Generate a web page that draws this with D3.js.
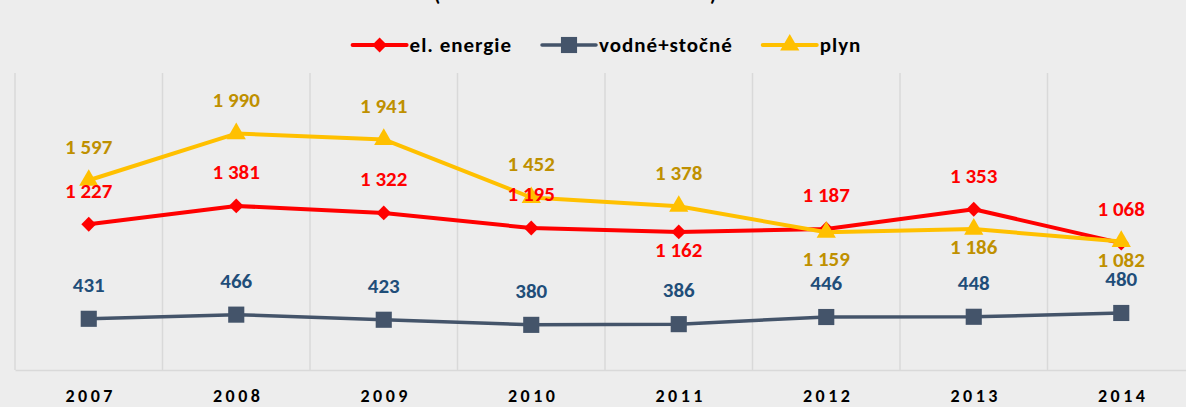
<!DOCTYPE html>
<html>
<head>
<meta charset="utf-8">
<script src="https://cdn.jsdelivr.net/npm/d3@7"></script>
<style>
  body { margin: 0; background: #ededed; }
  svg { display: block; font-family: Carlito, Lato, "Open Sans", sans-serif; }
</style>
</head>
<body>
<svg></svg>
<script>
let years = ['2007', '2008', '2009', '2010', '2011', '2012', '2013', '2014'];
let elEnergie = [1227, 1381, 1322, 1195, 1162, 1187, 1353, 1068];
let vodne = [431, 466, 423, 380, 386, 446, 448, 480];
let plyn = [1597, 1990, 1941, 1452, 1378, 1159, 1186, 1082];
// label placement per point: a = above, b = below, B = further below
let elPos = ['a', 'a', 'a', 'a', 'b', 'a', 'a', 'a'];
let vodnePos = ['a', 'a', 'a', 'a', 'a', 'a', 'a', 'a'];
let plynPos = ['a', 'a', 'a', 'a', 'a', 'B', 'b', 'b'];

let series = [
  {name: 'el. energie', values: elEnergie, pos: elPos, line: '#ff0000', label: '#ff0000', marker: 'diamond', width: 4},
  {name: 'vodné+stočné', values: vodne, pos: vodnePos, line: '#44546a', label: '#1f4e79', marker: 'square', width: 3.5},
  {name: 'plyn', values: plyn, pos: plynPos, line: '#ffc000', label: '#bf9000', marker: 'triangle', width: 4}
];

let svgWidth = 1186, svgHeight = 407;
let svg = d3.select('svg').attr('width', svgWidth).attr('height', svgHeight);

let x = d3.scaleBand().domain(years).range([15, 1195]);
let y = d3.scaleLinear().domain([0, 2500]).range([370, 73]);

// cut-off title (only the bottoms of the parentheses show)
svg.append('text').attr('x', 437).attr('y', 1).attr('font-size', 20).attr('font-weight', 'bold').attr('text-anchor', 'middle').text('(');
svg.append('text').attr('x', 713).attr('y', 1).attr('font-size', 20).attr('font-weight', 'bold').attr('text-anchor', 'middle').text(')');

// vertical gridlines between categories
let bounds = years.map(d => x(d)).concat([x.range()[1]]);
svg.append('g').selectAll('line')
  .data(bounds)
  .enter()
  .append('line')
  .attr('x1', d => d).attr('x2', d => d)
  .attr('y1', y(2500)).attr('y2', y(0))
  .attr('stroke', '#d9d9d9').attr('stroke-width', 1.5);

let xAxis = svg.append('g')
  .attr('transform', 'translate(0,' + y(0) + ')')
  .call(d3.axisBottom(x).tickSize(0).tickPadding(19));
xAxis.select('.domain').attr('stroke', '#d9d9d9').attr('stroke-width', 1.5);
xAxis.selectAll('text')
  .attr('font-family', 'Carlito, Lato, "Open Sans", sans-serif')
  .attr('font-size', 18).attr('font-weight', 'bold')
  .attr('fill', '#000')
  .attr('letter-spacing', '3.5px')
  .attr('dx', 2);

let cx = (d, i) => x(years[i]) + x.bandwidth() / 2;

let symbols = {
  diamond: d3.symbol().type(d3.symbolDiamond2).size(140),
  square: d3.symbol().type(d3.symbolSquare).size(260),
  triangle: d3.symbol().type(d3.symbolTriangle).size(160)
};

let line = d3.line().x(cx).y(d => y(d));

// draw order: vodne, el. energie, plyn (plyn on top like the reference)
let order = [series[1], series[0], series[2]];
order.forEach(s => {
  let g = svg.append('g');
  g.append('path')
    .attr('d', line(s.values))
    .attr('fill', 'none')
    .attr('stroke', s.line)
    .attr('stroke-width', s.width)
    .attr('stroke-linejoin', 'round');
  g.selectAll('path.m')
    .data(s.values)
    .enter()
    .append('path')
    .attr('class', 'm')
    .attr('transform', (d, i) => 'translate(' + cx(d, i) + ',' + y(d) + ')')
    .attr('d', symbols[s.marker])
    .attr('fill', s.line);
});

// data labels
let offset = {a: -34, b: 18, B: 26};
series.forEach(s => {
  svg.append('g').selectAll('text')
    .data(s.values)
    .enter()
    .append('text')
    .attr('x', cx)
    .attr('y', (d, i) => y(d) + offset[s.pos[i]])
    .attr('dy', '0.35em')
    .attr('text-anchor', 'middle')
    .attr('font-size', 21)
    .attr('font-weight', 'bold')
    .attr('fill', s.label)
    .text(d => d3.format(',')(d).replace(/,/g, ' '));
});

// legend
let legend = svg.append('g');
let lx = 0;
series.forEach(s => {
  let item = legend.append('g').attr('transform', 'translate(' + lx + ',0)');
  item.append('line')
    .attr('x1', 0).attr('x2', 54).attr('y1', 45).attr('y2', 45)
    .attr('stroke', s.line).attr('stroke-width', s.width)
    .attr('stroke-linecap', 'round');
  item.append('path')
    .attr('transform', 'translate(27,45)')
    .attr('d', symbols[s.marker])
    .attr('fill', s.line);
  let t = item.append('text')
    .attr('x', 57).attr('y', 52)
    .attr('font-size', 21).attr('font-weight', 'bold')
    .attr('letter-spacing', '1px')
    .attr('fill', '#000')
    .text(s.name);
  lx += 57 + t.node().getComputedTextLength() + 30;
});
let lw = lx - 30;
legend.attr('transform', 'translate(' + (607 - lw / 2) + ',0)');
</script>
</body>
</html>
